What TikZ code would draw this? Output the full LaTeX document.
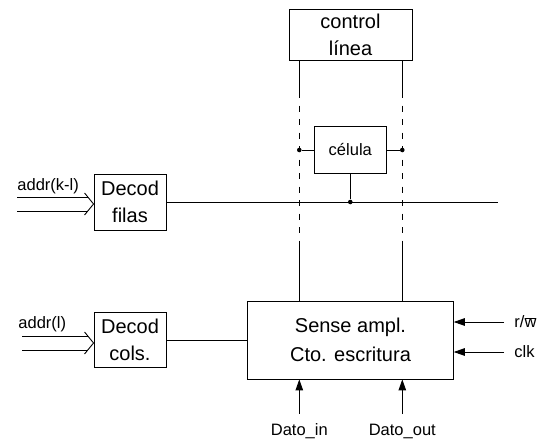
\documentclass[tikz,border=0pt]{standalone}
\usepackage{fontspec}
\setmainfont{Liberation Sans}
\usetikzlibrary{arrows.meta}

\tikzset{
  blk/.style={draw, line width=0.9pt, inner sep=0pt, align=center,
    font=\fontsize{20}{27}\selectfont},
  lbl/.style={inner sep=0pt, font=\fontsize{16.5}{20}\selectfont},
  sig/.style={line width=0.9pt, -{Triangle[length=11pt,width=7.5pt]}},
  dot/.style={circle, fill=black, inner sep=0pt, minimum size=4.6pt}
}

\begin{document}
\begin{tikzpicture}[x=1pt,y=-1pt,line width=0.9pt]
\useasboundingbox (0,0) rectangle (542,440);

% bloques
\node[blk, minimum width=123pt, minimum height=51pt] (ctrl) at (350.5,34.7) {control\\l\'inea};
\node[blk, minimum width=72.7pt, minimum height=46.7pt, font=\fontsize{16.5}{20}\selectfont] (cel) at (350.3,150) {c\'elula};
\node[blk, minimum width=72pt, minimum height=56pt] (filas) at (130,202) {Decod\\filas};
\node[blk, minimum width=72pt, minimum height=55.5pt] (cols) at (130,340) {Decod\\cols.};
\node[blk, minimum width=205.6pt, minimum height=77.3pt, font=\fontsize{20}{29}\selectfont] (sense) at (350.5,340.3) {Sense ampl.\\Cto. escritura};

% lineas de bit
\coordinate (bl1) at (299.3,92);
\coordinate (bl2) at (299.3,247);
\coordinate (br1) at (402.3,92);
\coordinate (br2) at (402.3,247);
\draw (ctrl.south -| bl1) -- (bl1);
\draw[dash pattern=on 6pt off 7.5pt] (bl1) -- (bl2);
\draw (bl2) -- (sense.north -| bl2);
\draw (ctrl.south -| br1) -- (br1);
\draw[dash pattern=on 6pt off 7.5pt] (br1) -- (br2);
\draw (br2) -- (sense.north -| br2);

% celula
\node[dot] (dl) at (bl1 |- cel) {};
\node[dot] (dr) at (br1 |- cel) {};
\draw (cel.west) -- (dl);
\draw (cel.east) -- (dr);

% linea de palabra
\coordinate (wend) at (498,0 |- filas.east);
\node[dot] (dw) at (cel.south |- filas.east) {};
\draw (filas.east) -- (wend);
\draw (cel.south) -- (dw);

% direcciones
\node[lbl, anchor=west] (akl) at (17,186) {addr(k-l)};
\node[lbl, anchor=west] (al) at (18,324) {addr(l)};
\coordinate (in1a) at (17,197);
\coordinate (in1b) at (17,211);
\coordinate (in2a) at (22,336);
\coordinate (in2b) at (22,350);
\draw (in1a) -- ([xshift=-5.7pt]filas.west |- in1a);
\draw (in1b) -- ([xshift=-5.7pt]filas.west |- in1b);
\draw (filas.west |- 0,204) ++(-9,-11) -- (filas.west |- 0,204) -- ++(-9,11);
\draw (in2a) -- ([xshift=-5.7pt]cols.west |- in2a);
\draw (in2b) -- ([xshift=-5.7pt]cols.west |- in2b);
\draw (cols.west |- 0,343) ++(-9,-11) -- (cols.west |- 0,343) -- ++(-9,11);
\draw (cols.east) -- (sense.west |- cols.east);

% control
\node[lbl, anchor=west] (rw) at (514,322) {r/\ensuremath{\overline{\mbox{w}}}};
\node[lbl, anchor=west] (clk) at (514,352) {clk};
\draw[sig] ([xshift=-10pt]rw.west) -- (rw.west -| sense.east);
\draw[sig] ([xshift=-10pt]clk.west) -- (clk.west -| sense.east);

% datos
\node[lbl] (din) at (299.3,431) {Dato\_in};
\node[lbl] (dout) at (402.3,431) {Dato\_out};
\draw[sig] ([yshift=9pt]din.north) -- (sense.south -| din);
\draw[sig] ([yshift=9pt]dout.north) -- (sense.south -| dout);
\end{tikzpicture}
\end{document}
